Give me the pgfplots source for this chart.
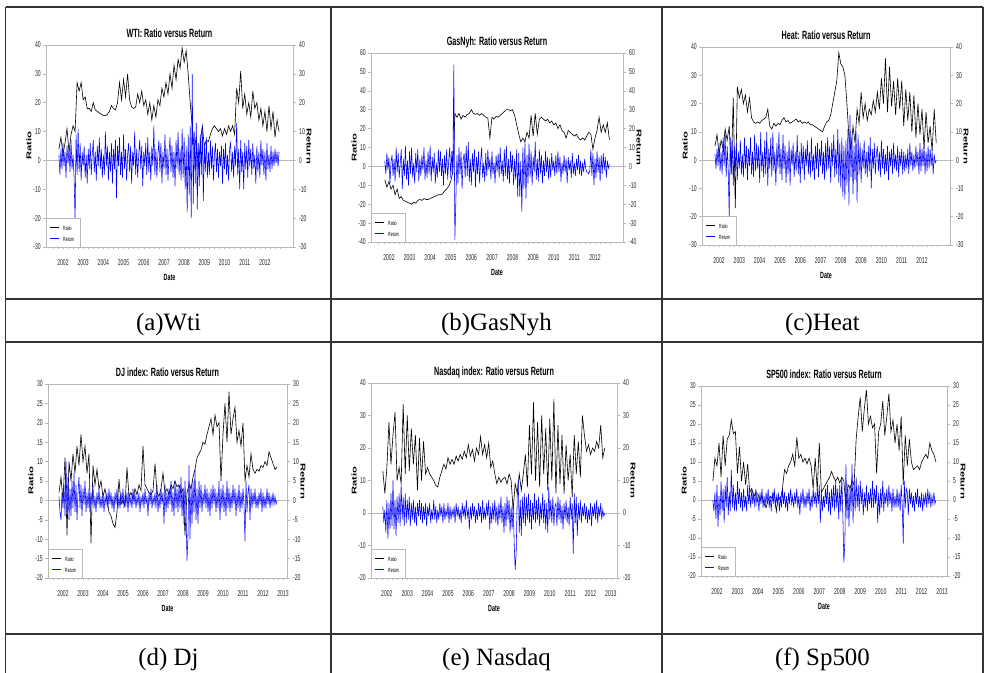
\documentclass[border=0pt]{standalone}
\usepackage{fontspec}
\setmainfont{Liberation Serif}
\newfontfamily\nar[FakeStretch=0.6]{Liberation Sans}
\newfontfamily\tall[FakeStretch=1.6]{Liberation Sans}
\usepackage{pgfplots}
\usepackage{pgfplotstable}
\pgfplotsset{compat=1.18}
\definecolor{keyblue}{rgb}{0.01,0.01,0.99}
\definecolor{keyblack}{rgb}{0.02,0.02,0.02}

\pgfplotsset{
  ev/.style={scale only axis, anchor=south west,
    axis line style={gray!55, line width=0.5bp},
    tick style={gray!55, line width=0.5bp},
    tick align=outside, major tick length=3bp, minor tick length=2bp,
    scaled ticks=false,
    /pgf/number format/assume math mode=true,
    /pgf/number format/1000 sep={},
    tick label style={font=\nar\fontsize{8.5}{9.5}\selectfont, text=black!85}},
  evl/.style={ev, xtick pos=bottom, ytick pos=left,
    major x tick style={draw=none},
    xticklabel style={anchor=base, inner sep=0pt, yshift=-16bp},
    yticklabel style={anchor=east, inner sep=0pt, xshift=-2bp},
    xlabel={Date},
    xlabel style={font=\nar\bfseries\fontsize{9}{10}\selectfont,
      at={(axis description cs:0.5,0)}, anchor=center, yshift=-30bp},
    ylabel={Ratio},
    ylabel style={font=\tall\bfseries\fontsize{7}{8}\selectfont,
      at={([xshift=-17bp]axis description cs:0,0.5)}, anchor=center},
    title style={font=\nar\bfseries\fontsize{12}{13}\selectfont,
      at={(axis description cs:0.5,1)}, anchor=base, inner sep=0pt, yshift=1.5bp},
    extra y ticks={0}, extra y tick labels={},
    extra y tick style={grid=major, major grid style={gray!55, line width=0.5bp}}},
  evr/.style={ev, axis x line=none, axis y line*=right,
    yticklabel style={anchor=west, inner sep=0pt, xshift=3bp},
    ylabel={Return},
    ylabel style={font=\tall\bfseries\fontsize{7}{8}\selectfont,
      at={([xshift=16bp]axis description cs:1,0.5)}, anchor=center, rotate=180}},
}

% Ratio series: one value every 0.1 year from 2001.8; Return: every 0.05 year
\pgfplotstableread[header=false,row sep=\\]{
4\\8\\2\\6\\11\\3\\9\\12\\10\\27\\
24\\27\\21\\22\\18\\18\\17\\20\\17.5\\17\\
16.5\\16\\15.6\\15.5\\16\\17\\19\\18\\17.5\\20\\
27\\21\\28\\22\\30\\21\\18.5\\18\\18.5\\23\\
20\\24\\19\\21\\16\\20\\14\\19\\15\\21\\
19\\25\\22\\27\\23\\30\\25\\33\\28\\35\\
32\\39\\34\\38\\30\\20\\12\\4\\8\\-3\\
6\\12\\5\\7\\6.5\\9\\11\\12\\11\\10\\
11\\8.5\\11\\9\\12\\10\\12\\9\\25\\20\\
31\\18\\23\\16\\20\\15\\24\\18\\20\\14\\
18\\12\\17\\10\\19\\11\\17\\8\\14\\10\\
}\aR
\pgfplotstableread[header=false,row sep=\\]{
2\\-5\\4\\-3\\6\\-2\\3\\-6\\5\\-1\\
4\\-4\\7\\-3\\2\\-6\\-21\\9\\-5\\11\\
-4\\6\\-7\\3\\-2\\5\\-6\\2\\-8\\4\\
-3\\6\\-5\\2\\7\\-4\\3\\-7\\5\\-2\\
8\\-3\\4\\-6\\2\\-5\\10\\-2\\5\\-7\\
3\\-4\\6\\-8\\4\\-3\\7\\-13\\5\\-2\\
8\\-5\\3\\-6\\9\\-3\\4\\-7\\2\\6\\
-4\\5\\-8\\3\\-2\\10\\-5\\4\\-6\\2\\
7\\-3\\5\\-9\\3\\-2\\6\\-5\\8\\-4\\
3\\-7\\5\\-2\\12\\-5\\4\\-6\\2\\7\\
-4\\6\\-8\\3\\-3\\9\\-5\\4\\-7\\2\\
8\\-4\\5\\-6\\3\\-9\\7\\-3\\10\\-5\\
4\\-7\\11\\-6\\8\\-10\\5\\-18\\9\\-12\\
12\\-20\\30\\-15\\10\\-8\\13\\-17\\6\\-9\\
9\\-5\\12\\-14\\6\\-4\\8\\-6\\3\\-5\\
7\\-3\\5\\-7\\2\\6\\-4\\4\\-6\\3\\
-2\\5\\-8\\4\\-3\\6\\-5\\2\\-7\\4\\
6\\-4\\3\\-6\\5\\-2\\13\\-5\\4\\-10\\
7\\-4\\3\\-10\\6\\-3\\5\\-6\\7\\-2\\
4\\-5\\6\\-3\\2\\-8\\5\\-4\\3\\-6\\
7\\-2\\4\\-5\\3\\-7\\6\\-3\\2\\-4\\
5\\-3\\3\\-2\\4\\-1\\3\\-2\\3\\
}\aB

\pgfplotstableread[header=false,row sep=\\]{
-7\\-11\\-8\\-12\\-10\\-15\\-12\\-17\\-16\\-18\\
-18.5\\-19\\-19.5\\-20\\-19\\-19.5\\-18\\-17.5\\-18\\-17\\
-17.5\\-17.5\\-17\\-16.5\\-16\\-15.5\\-15\\-15\\-14.5\\-13\\
-12\\-10.5\\-8\\-3\\28\\26\\28\\25\\27\\26\\
27.5\\28\\30\\28\\27.5\\28\\27\\28\\27\\26\\
25.5\\15\\26\\25\\26.5\\26\\27\\28\\29\\30\\
30\\29.5\\30\\27\\22\\17\\13\\15\\13\\18\\
15\\27\\16\\28\\17\\25\\26\\25\\24\\25\\
23\\24\\22\\23\\20\\22\\19\\18\\15\\19\\
18\\17\\16\\17\\15\\14\\15\\14\\16\\18\\
17\\9\\15\\19\\26\\18\\22\\18\\23\\14\\
}\bR
\pgfplotstableread[header=false,row sep=\\]{
3\\-4\\7\\-2\\5\\-9\\2\\6\\-5\\4\\
-8\\10\\-3\\7\\-6\\2\\9\\-12\\4\\-5\\
11\\-7\\3\\-10\\8\\-4\\10\\-6\\2\\-9\\
7\\-3\\9\\-8\\4\\-5\\6\\-2\\10\\-7\\
3\\-6\\8\\-4\\11\\-8\\5\\-3\\7\\-9\\
2\\-6\\9\\-3\\8\\-5\\4\\-10\\6\\-4\\
9\\-7\\3\\10\\-6\\8\\-4\\54\\-39\\-17\\
6\\-9\\10\\-4\\8\\-12\\3\\7\\-6\\11\\
-5\\13\\-8\\4\\-10\\7\\-3\\9\\-11\\5\\
-4\\8\\-9\\3\\10\\-6\\2\\-8\\7\\-5\\
9\\-2\\4\\-7\\8\\-4\\2\\-9\\6\\-3\\
7\\-6\\10\\-4\\3\\-8\\9\\-5\\11\\-7\\
4\\-9\\8\\-3\\6\\-10\\4\\-7\\9\\-16\\
7\\-16\\3\\-24\\10\\-12\\13\\-17\\6\\-9\\
12\\-6\\8\\-10\\5\\-3\\13\\-7\\4\\-8\\
9\\-4\\6\\-9\\3\\-5\\8\\-3\\5\\-7\\
4\\-6\\7\\-2\\3\\-5\\6\\-4\\8\\-3\\
5\\-8\\2\\-4\\6\\-3\\4\\-9\\5\\-2\\
3\\-6\\7\\-4\\2\\-5\\4\\-2\\6\\-4\\
3\\-5\\2\\-3\\4\\-1\\-3\\-3\\-4\\-2\\
9\\-5\\7\\-10\\4\\-6\\8\\-3\\5\\-8\\
6\\-4\\7\\-2\\5\\-6\\3\\-1\\1\\
}\bB

\pgfplotstableread[header=false,row sep=\\]{
5\\9\\2\\7\\4\\11\\7\\12\\-4\\22\\
-17\\26\\22\\25\\20\\23\\17\\22\\15\\13.5\\
13\\13.5\\13\\14\\14.5\\15\\18\\12\\11\\13\\
12\\13\\12.5\\14\\15\\13.5\\14\\13\\13.5\\14\\
14.5\\13.5\\14\\13\\13.5\\13\\13.5\\12.5\\12.5\\12\\
11.5\\11\\10.5\\10\\12\\13.5\\14\\16\\20\\24\\
28\\38\\34\\33\\30\\20\\8\\4\\12\\6\\
18\\13\\24\\15\\20\\14\\18\\16\\21\\17\\
24\\18\\29\\20\\36\\17\\33\\19\\28\\16\\
29\\18\\28\\12\\25\\14\\24\\10\\23\\8\\
20\\9\\18\\4\\17\\6\\12\\3\\18\\6\\
}\cR
\pgfplotstableread[header=false,row sep=\\]{
2\\-3\\4\\-2\\6\\-4\\3\\-5\\8\\-2\\
10\\-6\\5\\-3\\-20\\8\\-5\\7\\-9\\5\\
-4\\6\\-7\\3\\-3\\7\\-5\\2\\-6\\8\\
-3\\5\\-7\\4\\-2\\8\\-5\\3\\-6\\9\\
-4\\6\\-3\\5\\-8\\10\\-4\\3\\-6\\7\\
-5\\10\\-9\\4\\-3\\8\\-6\\10\\-4\\3\\
-9\\6\\-3\\10\\-5\\4\\-7\\9\\-3\\5\\
-8\\3\\-5\\7\\-9\\4\\-2\\6\\-6\\3\\
-4\\9\\-5\\3\\-8\\6\\-3\\5\\-7\\4\\
-2\\7\\-5\\3\\-6\\8\\-4\\2\\-7\\5\\
-3\\6\\-6\\4\\-2\\7\\-5\\3\\-7\\6\\
-4\\8\\-3\\5\\-8\\6\\-2\\9\\-6\\4\\
-5\\11\\-8\\6\\-10\\8\\-13\\5\\-14\\7\\
-9\\11\\-16\\16\\-6\\8\\-12\\5\\-7\\10\\
-15\\9\\-5\\6\\-8\\4\\-3\\7\\-5\\3\\
-6\\5\\-4\\8\\-10\\4\\-3\\6\\-5\\2\\
5\\-4\\3\\-6\\7\\-3\\4\\-5\\2\\-4\\
5\\-7\\3\\-2\\4\\-5\\6\\-3\\2\\-4\\
5\\-6\\3\\-2\\4\\-5\\3\\-4\\2\\-3\\
4\\-5\\6\\-2\\3\\-4\\2\\-3\\5\\-2\\
3\\-5\\6\\-4\\4\\-2\\5\\-5\\3\\-4\\
5\\-3\\4\\-2\\3\\-5\\2\\-1\\0\\
}\cB

\pgfplotstableread[header=false,row sep=\\]{
2\\6\\0\\11\\-9\\10\\5\\12\\7\\14\\
9\\17\\10\\14\\7\\12\\-11\\9\\4\\8\\
3\\5\\1\\3\\0\\-3\\-4\\-6\\-7\\-3\\
5.5\\-1\\0\\-1.5\\8.5\\1\\2\\0.5\\3\\1.5\\
4\\2.5\\14\\4\\3\\2\\1.5\\2.5\\9.5\\2\\
1\\3\\7\\2\\3\\1.5\\4\\3\\5\\3.5\\
4\\2\\3\\-9\\2\\4\\3\\6\\8\\11\\
12\\13\\15\\14.5\\17\\19\\21\\17\\22\\19\\
20\\5\\17\\25\\15\\28\\17\\21\\24\\15\\
18\\14\\20\\5\\9\\6\\12\\8\\7\\8\\
7.5\\9\\8.5\\10\\9\\12.5\\11\\9.5\\8\\8.5\\
}\dR
\pgfplotstableread[header=false,row sep=\\]{
1\\-3\\-5\\2\\-2\\4\\-4\\10\\-3\\6\\
-5\\3\\-4\\5\\-2\\7\\-3\\4\\-5\\2\\
6\\-2\\4\\-4\\3\\-1\\5\\-3\\2\\-2\\
3\\-3\\2\\-1\\4\\-2\\1\\-3\\2\\-1\\
3\\-2\\1\\-2\\2\\-3\\1\\-1\\2\\-2\\
3\\-1\\2\\-2\\1\\-3\\2\\-1\\3\\-2\\
1\\-2\\2\\-1\\3\\-2\\1\\-1\\2\\-3\\
2\\-1\\1\\-2\\3\\-1\\2\\-2\\1\\-1\\
2\\-3\\1\\-1\\2\\-2\\3\\-1\\1\\-4\\
2\\-1\\3\\-2\\1\\-1\\2\\-2\\4\\-3\\
1\\-2\\3\\-1\\2\\-6\\4\\-3\\2\\-2\\
3\\-1\\5\\-3\\2\\-4\\5\\-2\\3\\-3\\
4\\-2\\6\\-4\\3\\-6\\5\\-3\\-15.5\\-9\\
9\\-10\\4\\-6\\5\\-3\\8\\-5\\3\\-6\\
5\\-2\\4\\-3\\2\\-1\\4\\-2\\3\\-3\\
2\\-4\\3\\-2\\4\\-1\\3\\-3\\2\\-2\\
5\\-5\\3\\-2\\4\\-3\\2\\-4\\5\\-2\\
3\\-3\\2\\-2\\4\\-1\\3\\-4\\2\\-2\\
4\\-3\\2\\-2\\3\\-1\\-10.5\\5\\-3\\2\\
4\\-5\\3\\-2\\2\\-1\\3\\-2\\1\\-2\\
2\\-1\\3\\-3\\2\\-2\\1\\-2\\3\\-1\\
2\\-2\\1\\-1\\2\\-1\\1\\-1\\0\\
}\dB

\pgfplotstableread[header=false,row sep=\\]{
13\\6\\14\\28\\15\\24\\31\\10\\14\\9\\
33.5\\12\\30\\13\\26\\15\\24\\7\\23\\10\\
22\\12\\14\\12\\11\\10\\8.5\\8\\11\\13\\
15\\13.5\\17\\15\\16.5\\15\\17.5\\16\\18\\16.5\\
19\\17\\21\\17.5\\19.5\\16\\20\\18\\23.5\\18\\
21\\17\\21.5\\14\\16\\12\\9\\11\\9.5\\10.5\\
11\\9\\12\\10\\1\\9\\6\\12\\7\\12\\
18\\8\\27\\12\\34\\10\\28\\8\\30\\12\\
26\\7\\29\\10\\35\\6\\27\\9\\24\\6\\
21\\10\\18\\5\\24\\12\\22\\11\\30\\24\\
19\\21\\18\\20\\19\\22\\20\\27\\17\\20\\
}\eR
\pgfplotstableread[header=false,row sep=\\]{
2\\-3\\1\\-6\\4\\-8\\3\\-5\\6\\-4\\
10\\-5\\4\\-7\\5\\-3\\6\\-4\\9\\-2\\
5\\-4\\6\\-3\\4\\-2\\5\\-4\\3\\-2\\
4\\-3\\2\\-4\\3\\-1\\4\\-2\\3\\-3\\
2\\-2\\3\\-4\\2\\-1\\3\\-3\\1\\-2\\
4\\-2\\2\\-3\\1\\-2\\3\\-1\\2\\-3\\
3\\-2\\1\\-1\\3\\-3\\2\\-2\\1\\-1\\
2\\-3\\3\\-1\\2\\-2\\1\\-3\\3\\-1\\
2\\-2\\4\\-1\\1\\-5\\2\\-2\\3\\-1\\
2\\-3\\1\\-2\\3\\-1\\2\\-3\\4\\-2\\
1\\-2\\3\\-1\\4\\-5\\2\\-3\\3\\-2\\
4\\-3\\2\\-4\\3\\-2\\5\\-3\\2\\-6\\
3\\-4\\5\\-2\\4\\-6\\2\\-5\\3\\-9\\
-17.5\\-12\\5\\10\\-6\\4\\-7\\5\\-3\\6\\
-4\\5\\-2\\6\\-3\\4\\-5\\3\\-2\\6\\
-3\\4\\-2\\5\\-4\\3\\-2\\6\\-3\\4\\
-5\\3\\-6\\8\\-2\\4\\-3\\5\\-4\\2\\
3\\-4\\5\\-2\\4\\-3\\2\\-5\\3\\-2\\
4\\-3\\2\\-4\\5\\-2\\3\\-12.5\\6\\-3\\
5\\-7\\3\\-2\\4\\-3\\2\\-1\\3\\-2\\
2\\-3\\1\\-2\\3\\-4\\2\\-1\\3\\-2\\
4\\-3\\2\\-1\\3\\-2\\1\\-1\\0\\
}\eB

\pgfplotstableread[header=false,row sep=\\]{
5\\11\\9\\15\\6\\17\\9\\16\\17\\21\\
17.5\\18\\7\\14\\5\\10\\4\\9.5\\2\\3\\
1\\2\\1.5\\0\\1\\-1\\-2\\0\\1\\0.5\\
2\\-3\\1\\0\\3\\8\\7\\9\\10\\12\\
9\\16.5\\11\\12\\10\\11\\9.5\\11\\9\\3\\
11\\2.5\\15\\2\\3\\4\\5\\6\\7.5\\6\\
5\\6\\4.5\\6\\5\\-2\\4\\3\\5\\4\\
16\\22\\27\\18\\24\\29\\20\\22\\19\\20\\
7\\18\\20\\26\\17\\22\\28\\18\\21\\15\\
20\\13\\22\\4\\17\\9\\16\\10\\8\\8.5\\
9\\8\\10\\11\\12\\11\\15\\13\\12\\10\\
}\fR
\pgfplotstableread[header=false,row sep=\\]{
0\\-3\\2\\-5\\4\\-7\\1\\-4\\5\\-3\\
3\\-6\\4\\-2\\6\\-4\\2\\-3\\8\\-2\\
4\\-3\\2\\-3\\5\\-1\\3\\-2\\2\\-3\\
3\\-2\\1\\-3\\4\\-1\\2\\-2\\3\\-1\\
2\\-2\\3\\-1\\1\\-3\\2\\-1\\3\\-2\\
1\\-2\\2\\-1\\3\\-2\\1\\-3\\2\\-1\\
3\\-2\\1\\-1\\2\\-3\\1\\-2\\3\\-1\\
2\\-2\\1\\-3\\2\\-1\\3\\-1\\1\\-2\\
2\\-1\\3\\-2\\1\\-4\\2\\-1\\3\\-2\\
1\\-2\\2\\-1\\3\\-3\\1\\-2\\3\\-1\\
2\\-2\\3\\-1\\4\\-6\\2\\-3\\1\\-2\\
3\\-1\\4\\-3\\2\\-4\\3\\-2\\4\\-3\\
5\\-2\\3\\-5\\4\\-3\\6\\-4\\-16.5\\-11\\
9.5\\-5\\3\\-7\\4\\-3\\9.5\\-6\\5\\-3\\
6\\-2\\4\\-3\\5\\-1\\3\\-4\\2\\-2\\
4\\-3\\2\\-1\\3\\-2\\5\\-2\\3\\-1\\
4\\-6\\2\\-4\\3\\-2\\5\\-3\\2\\-1\\
3\\-2\\4\\-1\\2\\-3\\3\\-2\\1\\-2\\
3\\-2\\2\\-3\\4\\-1\\-11.5\\5\\-2\\3\\
2\\-4\\3\\-1\\2\\-2\\1\\-3\\2\\-1\\
3\\-2\\1\\-2\\2\\-3\\1\\-1\\2\\-2\\
3\\-1\\2\\-2\\1\\-1\\2\\-1\\0\\
}\fB

% legend key in the lower left corner of an axis
\newcommand\keys{%
  \draw[gray!55, line width=0.4bp, fill=white] (rel axis cs:0,0) rectangle ([xshift=34bp,yshift=29bp]rel axis cs:0,0);
  \node[anchor=west, inner sep=0pt, font=\nar\fontsize{6}{7}\selectfont] at ([xshift=17bp,yshift=19bp]rel axis cs:0,0) {Ratio};
  \node[anchor=west, inner sep=0pt, font=\nar\fontsize{6}{7}\selectfont] at ([xshift=17bp,yshift=8bp]rel axis cs:0,0) {Return};
  \draw[color=keyblack, line width=1bp] ([xshift=4bp,yshift=19bp]rel axis cs:0,0) -- ++(9bp,0bp);
  \draw[color=keyblue, line width=1bp] ([xshift=4bp,yshift=8bp]rel axis cs:0,0) -- ++(9bp,0bp);}

\begin{document}
\begin{tikzpicture}[x=1bp,y=1bp]
\useasboundingbox (0,0) rectangle (984,673);

% (a) WTI
\begin{axis}[evl, at={(46bp,426bp)}, width=247bp, height=202bp,
  xmin=2001.16, xmax=2013.39, ymin=-30, ymax=40, ytick={-30,-20,...,40},
  xtick={2002,...,2012}, minor xtick={2001.5,2001.75,...,2012.75},
  title={WTI: Ratio versus Return}]
\addplot[black, line width=0.6bp] table[x expr=2001.8+0.1*\coordindex, y index=0] {\aR};
\addplot[blue, line width=0.55bp] table[x expr=2001.8+0.05*\coordindex, y index=0] {\aB};
\keys
\end{axis}
\begin{axis}[evr, at={(46bp,426bp)}, width=247bp, height=202bp,
  xmin=2001.16, xmax=2013.39, ymin=-30, ymax=40, ytick={-30,-20,...,40}]
\end{axis}

% (b) GasNyh
\begin{axis}[evl, at={(371bp,431bp)}, width=252bp, height=189bp,
  xmin=2001.13, xmax=2013.36, ymin=-40, ymax=60, ytick={-40,-30,...,60},
  xtick={2002,...,2012}, minor xtick={2001.5,2001.75,...,2012.75},
  title={GasNyh: Ratio versus Return}]
\addplot[black, line width=0.6bp] table[x expr=2001.8+0.1*\coordindex, y index=0] {\bR};
\addplot[blue, line width=0.55bp] table[x expr=2001.8+0.05*\coordindex, y index=0] {\bB};
\keys
\end{axis}
\begin{axis}[evr, at={(371bp,431bp)}, width=252bp, height=189bp,
  xmin=2001.13, xmax=2013.36, ymin=-40, ymax=60, ytick={-40,-30,...,60}]
\end{axis}

% (c) Heat
\begin{axis}[evl, at={(702bp,428bp)}, width=248bp, height=198bp,
  xmin=2001.16, xmax=2013.38, ymin=-30, ymax=40, ytick={-30,-20,...,40},
  xtick={2002,...,2012}, minor xtick={2001.5,2001.75,...,2012.75},
  title={Heat: Ratio versus Return}]
\addplot[black, line width=0.6bp] table[x expr=2001.8+0.1*\coordindex, y index=0] {\cR};
\addplot[blue, line width=0.55bp] table[x expr=2001.8+0.05*\coordindex, y index=0] {\cB};
\keys
\end{axis}
\begin{axis}[evr, at={(702bp,428bp)}, width=248bp, height=198bp,
  xmin=2001.16, xmax=2013.38, ymin=-30, ymax=40, ytick={-30,-20,...,40}]
\end{axis}

% (d) DJ
\begin{axis}[evl, at={(48bp,95bp)}, width=239bp, height=194bp,
  xmin=2001.25, xmax=2013.2, ymin=-20, ymax=30, ytick={-20,-15,...,30},
  xtick={2002,...,2013}, minor xtick={2001.5,2001.75,...,2013},
  title={DJ index: Ratio versus Return}]
\addplot[black, line width=0.6bp] table[x expr=2001.8+0.1*\coordindex, y index=0] {\dR};
\addplot[blue, line width=0.55bp] table[x expr=2001.8+0.05*\coordindex, y index=0] {\dB};
\keys
\end{axis}
\begin{axis}[evr, at={(48bp,95bp)}, width=239bp, height=194bp,
  xmin=2001.25, xmax=2013.2, ymin=-20, ymax=30, ytick={-20,-15,...,30}]
\end{axis}

% (e) Nasdaq
\begin{axis}[evl, at={(371bp,95bp)}, width=246bp, height=195bp,
  xmin=2001.22, xmax=2013.3, ymin=-20, ymax=40, ytick={-20,-10,...,40},
  xtick={2002,...,2013}, minor xtick={2001.5,2001.75,...,2013},
  title={Nasdaq index: Ratio versus Return}]
\addplot[black, line width=0.6bp] table[x expr=2001.8+0.1*\coordindex, y index=0] {\eR};
\addplot[blue, line width=0.55bp] table[x expr=2001.8+0.05*\coordindex, y index=0] {\eB};
\keys
\end{axis}
\begin{axis}[evr, at={(371bp,95bp)}, width=246bp, height=195bp,
  xmin=2001.22, xmax=2013.3, ymin=-20, ymax=40, ytick={-20,-10,...,40}]
\end{axis}

% (f) SP500
\begin{axis}[evl, at={(701bp,97bp)}, width=246bp, height=190bp,
  xmin=2001.22, xmax=2013.24, ymin=-20, ymax=30, ytick={-20,-15,...,30},
  xtick={2002,...,2013}, minor xtick={2001.5,2001.75,...,2013},
  title={SP500 index: Ratio versus Return}]
\addplot[black, line width=0.6bp] table[x expr=2001.8+0.1*\coordindex, y index=0] {\fR};
\addplot[blue, line width=0.55bp] table[x expr=2001.8+0.05*\coordindex, y index=0] {\fB};
\keys
\end{axis}
\begin{axis}[evr, at={(701bp,97bp)}, width=246bp, height=190bp,
  xmin=2001.22, xmax=2013.24, ymin=-20, ymax=30, ytick={-20,-15,...,30}]
\end{axis}

% table rules
\begin{scope}[black!80, line width=1.3bp]
\draw (5.5,666) -- (983,666);
\draw (5.5,374) -- (983,374);
\draw (5.5,331) -- (983,331);
\draw (5.5,39) -- (983,39);
\draw (5.5,666) -- (5.5,0);
\draw (331,666) -- (331,0);
\draw (662,666) -- (662,0);
\draw (983,666) -- (983,0);
\end{scope}

\begin{scope}[font=\fontsize{25}{30}\selectfont]
\node[anchor=base] at (168.5,342) {(a)Wti};
\node[anchor=base] at (496.5,342) {(b)GasNyh};
\node[anchor=base] at (822.5,342) {(c)Heat};
\node[anchor=base] at (168.5,7) {(d) Dj};
\node[anchor=base] at (496.5,7) {(e) Nasdaq};
\node[anchor=base] at (822.5,7) {(f) Sp500};
\end{scope}
\end{tikzpicture}
\end{document}
